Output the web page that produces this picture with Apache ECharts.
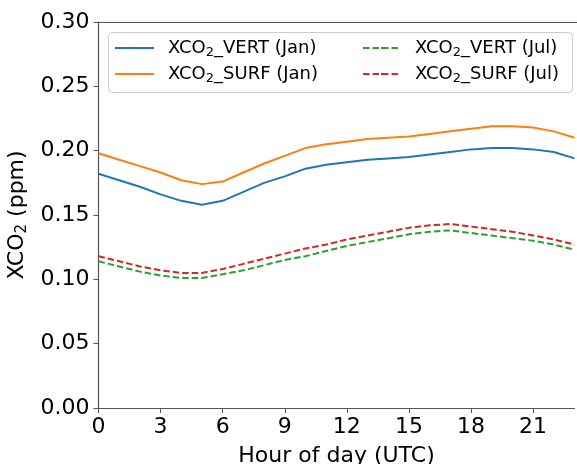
<!DOCTYPE HTML>
<html>
<head>
	<meta charset="utf-8">
	<script src="https://cdn.jsdelivr.net/npm/echarts@6/dist/echarts.min.js"></script>
	<title>XCO2 diurnal cycle</title>
	<style>
		html, body { margin: 0; padding: 0; background: #fff; }
		#main { width: 577px; height: 464px; }
	</style>
</head>
<body>
	<div id="main"></div>
	<script type="text/javascript">
		// hour of day (UTC)
		var hours = [0,1,2,3,4,5,6,7,8,9,10,11,12,13,14,15,16,17,18,19,20,21,22,23];
		var xTicks = [0,3,6,9,12,15,18,21];
		var vertJan = [0.182,0.177,0.172,0.166,0.161,0.158,0.161,0.168,0.175,0.180,0.186,0.189,0.191,0.193,0.194,0.195,0.197,0.199,0.201,0.202,0.202,0.201,0.199,0.194];
		var surfJan = [0.198,0.193,0.188,0.183,0.177,0.174,0.176,0.183,0.190,0.196,0.202,0.205,0.207,0.209,0.210,0.211,0.213,0.215,0.217,0.219,0.219,0.218,0.215,0.210];
		var vertJul = [0.114,0.110,0.106,0.103,0.101,0.101,0.104,0.107,0.111,0.115,0.118,0.122,0.126,0.129,0.132,0.135,0.137,0.138,0.136,0.134,0.132,0.130,0.127,0.123];
		var surfJul = [0.118,0.114,0.110,0.107,0.105,0.105,0.108,0.112,0.116,0.120,0.124,0.127,0.131,0.134,0.137,0.140,0.142,0.143,0.141,0.139,0.137,0.134,0.131,0.127];
		var names = ['VERT (Jan)', 'SURF (Jan)', 'VERT (Jul)', 'SURF (Jul)'];

		function pairs(ys) {
			var out = [];
			for (var i = 0; i < hours.length; i++) {
				out.push([hours[i], ys[i]]);
			}
			return out;
		}

		var font = 'DejaVu Sans';
		var legendRich = {
			g: { width: 9 },
			a: { fontFamily: font, fontSize: 18, color: '#000' },
			s: { fontFamily: font, fontSize: 13, color: '#000', padding: [9, 0, 0, 0] }
		};
		function legendFmt(n) {
			return '{g|}{a|XCO}{s|2}{a|_' + n + '}';
		}

		var myChart = echarts.init(document.getElementById('main'));
		var option = {
			animation: false,
			grid: { left: 98.5, top: 22, width: 476, height: 386, outerBoundsMode: 'none', containLabel: false },
			legend: [
				{ left: 109, top: 34, orient: 'vertical', itemWidth: 39, itemHeight: 3, itemGap: 6,
				  data: [names[0], names[1]], formatter: legendFmt, textStyle: { rich: legendRich } },
				{ left: 357, top: 34, orient: 'vertical', itemWidth: 38, itemHeight: 3, itemGap: 6,
				  data: [names[2], names[3]], formatter: legendFmt, textStyle: { rich: legendRich } }
			],
			graphic: [{
				type: 'rect',
				shape: { x: 108.5, y: 32.5, width: 464, height: 60, r: 4 },
				style: { fill: 'none', stroke: '#ccc', lineWidth: 1 },
				z: 1
			}, {
				type: 'line',
				shape: { x1: 98, y1: 22.5, x2: 577, y2: 22.5 },
				style: { stroke: '#555', lineWidth: 1.2 }
			}],
			xAxis: {
				type: 'value', min: 0, max: 23,
				name: 'Hour of day (UTC)', nameLocation: 'middle', nameGap: 37,
				nameTextStyle: { fontFamily: font, fontSize: 22, color: '#000' },
				axisLine: { lineStyle: { color: '#555', width: 1.2 } },
				axisTick: { length: 5, customValues: xTicks, lineStyle: { color: '#555' } },
				axisLabel: { fontFamily: font, fontSize: 22, color: '#000', margin: 8, customValues: xTicks },
				splitLine: { show: false }
			},
			yAxis: {
				type: 'value', min: 0, max: 0.30, interval: 0.05,
				name: '{a|XCO}{s|2}{a| (ppm)}', nameLocation: 'middle', nameGap: 68,
				nameTextStyle: { rich: {
					a: { fontFamily: font, fontSize: 22, color: '#000' },
					s: { fontFamily: font, fontSize: 15, color: '#000', padding: [10, 0, 0, 0] }
				} },
				axisLine: { show: true, lineStyle: { color: '#555', width: 1.2 } },
				axisTick: { show: true, length: 5, lineStyle: { color: '#555' } },
				axisLabel: { fontFamily: font, fontSize: 22, color: '#000', margin: 9,
					formatter: function (v) { return v.toFixed(2); } },
				splitLine: { show: false }
			},
			series: [
				{ name: names[0], type: 'line', data: pairs(vertJan), symbol: 'none',
				  lineStyle: { color: '#1f77b4', width: 2 }, itemStyle: { color: '#1f77b4' } },
				{ name: names[1], type: 'line', data: pairs(surfJan), symbol: 'none',
				  lineStyle: { color: '#ff7f0e', width: 2 }, itemStyle: { color: '#ff7f0e' } },
				{ name: names[2], type: 'line', data: pairs(vertJul), symbol: 'none',
				  lineStyle: { color: '#2ca02c', width: 2, type: [6.5, 3] }, itemStyle: { color: '#2ca02c' } },
				{ name: names[3], type: 'line', data: pairs(surfJul), symbol: 'none',
				  lineStyle: { color: '#d62728', width: 2, type: [6.5, 3] }, itemStyle: { color: '#d62728' } }
			]
		};
		myChart.setOption(option);
	</script>
</body>
</html>
